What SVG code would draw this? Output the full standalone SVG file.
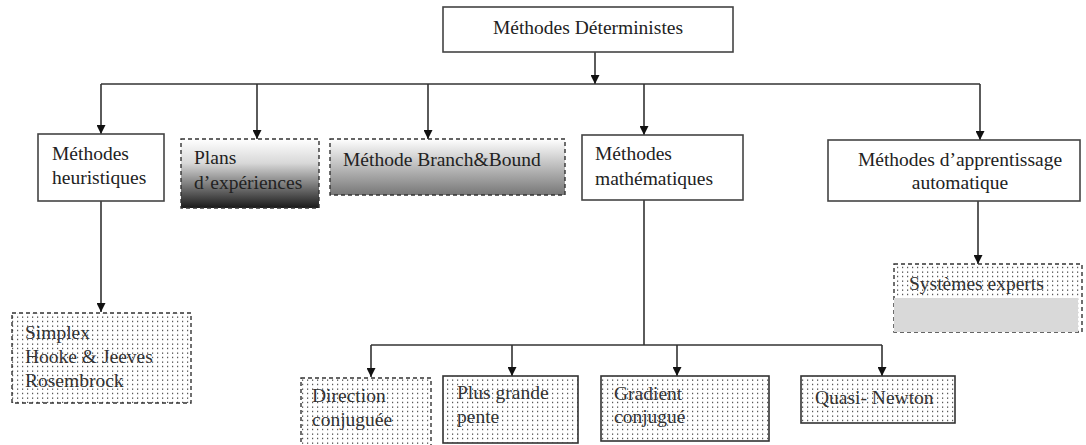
<svg xmlns="http://www.w3.org/2000/svg" width="1086" height="445" viewBox="0 0 1086 445">
<style>
text{font-family:"Liberation Serif","Times New Roman",serif;font-size:19.5px;fill:#222}
.box{fill:#fff;stroke:#444;stroke-width:1.6}
.dash{stroke:#333;stroke-width:1.4;stroke-dasharray:4 3}
.solid{stroke:#333;stroke-width:1.6}
.conn{fill:none;stroke:#333;stroke-width:1.6}
.dt{fill:#333}
</style>
<defs>
<marker id="ah" viewBox="0 0 10 10" refX="10" refY="5" markerWidth="9" markerHeight="9" markerUnits="userSpaceOnUse" orient="auto">
<path d="M0,0 L10,5 L0,10 Z" fill="#111"/>
</marker>
<pattern id="dots" width="5" height="4.5" patternUnits="userSpaceOnUse">
<rect width="5" height="4.5" fill="#fff"/>
<rect x="2" y="1.5" width="1.2" height="1.2" fill="#333"/>
</pattern>
<linearGradient id="g1" x1="0" y1="0" x2="0" y2="1">
<stop offset="0" stop-color="#fff"/>
<stop offset="0.35" stop-color="#d8d8d8"/>
<stop offset="1" stop-color="#1a1a1a"/>
</linearGradient>
<linearGradient id="g2" x1="0" y1="0" x2="0" y2="1">
<stop offset="0" stop-color="#fff"/>
<stop offset="1" stop-color="#777"/>
</linearGradient>
</defs>
<g id="connectors">
<path class="conn" d="M595,52 V84" marker-end="url(#ah)"/>
<path class="conn" d="M101,84 H980"/>
<path class="conn" d="M101,84 V134" marker-end="url(#ah)"/>
<path class="conn" d="M257,84 V139" marker-end="url(#ah)"/>
<path class="conn" d="M428,84 V139" marker-end="url(#ah)"/>
<path class="conn" d="M644,84 V135" marker-end="url(#ah)"/>
<path class="conn" d="M980,84 V140" marker-end="url(#ah)"/>
<path class="conn" d="M101,201 V312" marker-end="url(#ah)"/>
<path class="conn" d="M978,201 V264" marker-end="url(#ah)"/>
<path class="conn" d="M644,200 V345"/>
<path class="conn" d="M371,345 H882"/>
<path class="conn" d="M371,345 V377" marker-end="url(#ah)"/>
<path class="conn" d="M512,345 V376" marker-end="url(#ah)"/>
<path class="conn" d="M677,345 V376" marker-end="url(#ah)"/>
<path class="conn" d="M882,345 V376" marker-end="url(#ah)"/>
</g>
<g id="n-deterministes">
<rect class="box" x="443" y="7" width="290" height="45"/>
<text x="588" y="34" text-anchor="middle">Méthodes Déterministes</text>
</g>
<g id="n-heuristiques">
<rect class="box" x="38" y="134" width="126" height="67"/>
<text x="52" y="160">Méthodes</text>
<text x="52" y="184">heuristiques</text>
</g>
<g id="n-plans">
<rect x="181" y="139" width="138" height="69" fill="url(#g1)" class="dash"/>
<text x="194" y="164">Plans</text>
<text x="194" y="189">d’expériences</text>
</g>
<g id="n-branch">
<rect x="330" y="139" width="235" height="56" fill="url(#g2)" class="dash"/>
<text x="343" y="166">Méthode Branch&amp;Bound</text>
</g>
<g id="n-math">
<rect class="box" x="582" y="135" width="161" height="65"/>
<text x="595" y="160">Méthodes</text>
<text x="595" y="185">mathématiques</text>
</g>
<g id="n-apprentissage">
<rect class="box" x="828" y="140" width="252" height="61"/>
<text x="960" y="166" text-anchor="middle">Méthodes d’apprentissage</text>
<text x="960" y="189" text-anchor="middle">automatique</text>
</g>
<g id="n-simplex">
<rect x="12" y="313" width="179" height="90" fill="url(#dots)" class="dash"/>
<text class="dt" x="25" y="339">Simplex</text>
<text class="dt" x="25" y="363">Hooke &amp; Jeeves</text>
<text class="dt" x="25" y="387">Rosembrock</text>
</g>
<g id="n-systemes">
<rect x="894" y="264" width="188" height="68" fill="url(#dots)" class="dash"/>
<rect x="894" y="298" width="184" height="34" fill="#d9d9d9"/>
<text class="dt" x="909" y="290">Systèmes experts</text>
</g>
<g id="n-direction">
<rect x="301" y="378" width="130" height="70" fill="url(#dots)" class="dash"/>
<text class="dt" x="312" y="402">Direction</text>
<text class="dt" x="312" y="426">conjuguée</text>
</g>
<g id="n-pente">
<rect x="443" y="376" width="135" height="67" fill="url(#dots)" class="solid"/>
<text class="dt" x="457" y="399">Plus grande</text>
<text class="dt" x="457" y="423">pente</text>
</g>
<g id="n-gradient">
<rect x="601" y="376" width="168" height="65" fill="url(#dots)" class="solid"/>
<text class="dt" x="614" y="400">Gradient</text>
<text class="dt" x="614" y="423">conjugué</text>
</g>
<g id="n-quasi">
<rect x="801" y="376" width="154" height="47" fill="url(#dots)" class="solid"/>
<text class="dt" x="815" y="404">Quasi- Newton</text>
</g>
</svg>
